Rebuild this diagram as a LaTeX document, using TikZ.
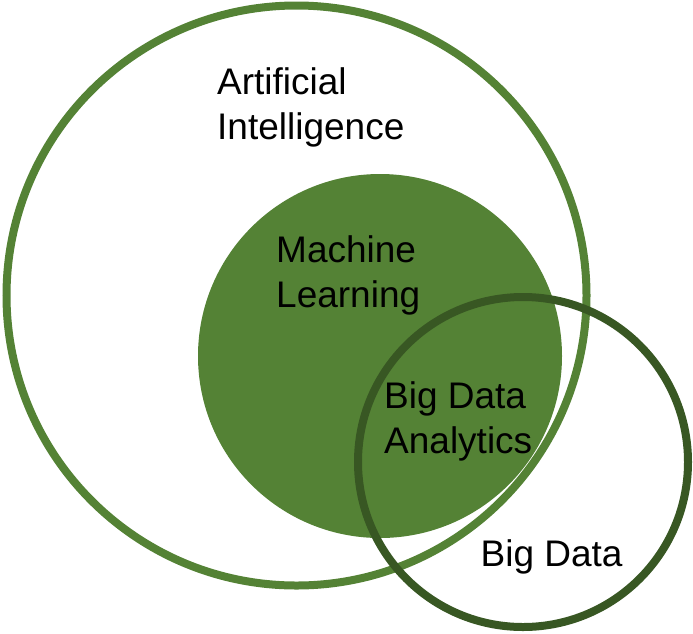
\documentclass[tikz,border=0pt]{standalone}
\usepackage{fontspec}
\setmainfont{Liberation Sans}
\definecolor{aigreen}{HTML}{548235}
\definecolor{bdgreen}{HTML}{385723}
\begin{document}
\begin{tikzpicture}[x=1pt,y=-1pt,
    venn/.style={circle,inner sep=0pt,line width=8pt},
    lbl/.style={font=\fontsize{37}{45}\selectfont,align=left,inner sep=0pt,anchor=base west}]
  \useasboundingbox (0,0) rectangle (693,633);
  \draw
    (296.5,295.5) node[venn,draw=aigreen,minimum size=580pt] (ai){}
    (380,356) node[venn,fill=aigreen,minimum size=364pt] (ml){}
    (523,462) node[venn,draw=bdgreen,minimum size=330pt] (bd){};
  \draw
    (217,139) node[lbl] (aitext){Artificial\\Intelligence}
    (276,307) node[lbl] (mltext){Machine\\Learning}
    (384,453) node[lbl] (bdatext){Big Data\\Analytics}
    (480.5,566.7) node[lbl] (bdtext){Big Data};
\end{tikzpicture}
\end{document}
